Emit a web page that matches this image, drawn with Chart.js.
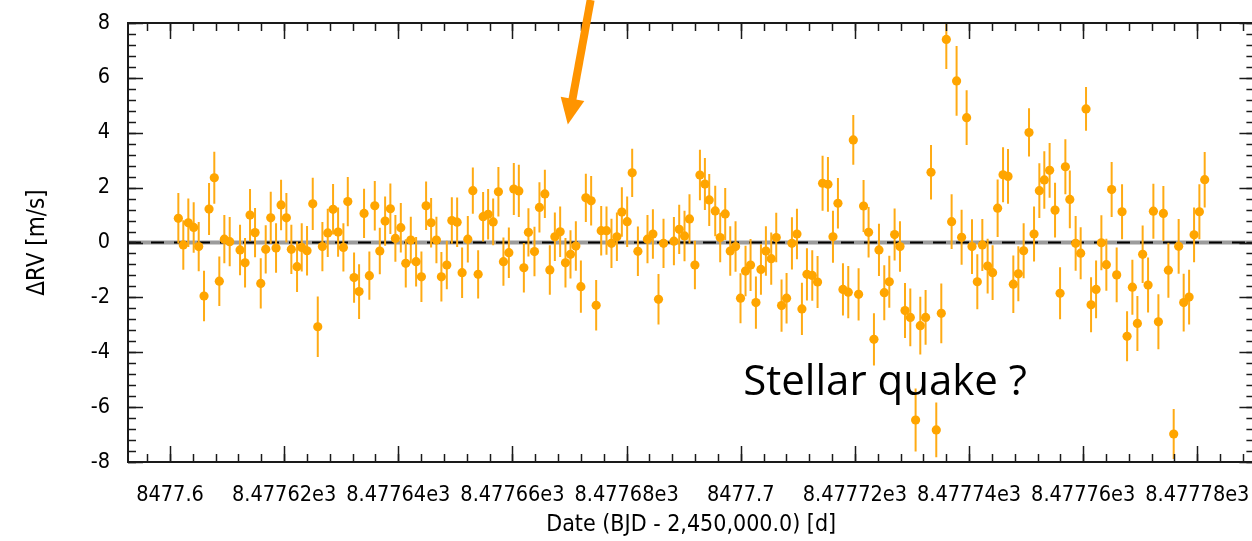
<!DOCTYPE html>
<html>
<head>
<meta charset="utf-8">
<script src="https://cdn.jsdelivr.net/npm/chart.js@4.4.1/dist/chart.umd.min.js"></script>
<style>
  html, body { margin: 0; padding: 0; background: #fff; overflow: hidden; }
  #wrap { width: 1259px; height: 541px; }
</style>
</head>
<body>
<div id="wrap"><canvas id="rvChart" width="1259" height="541"></canvas></div>
<script>
// Observation times (BJD - 2,450,000) and RV residuals in m/s
const bjd = [
  8477.60146, 8477.60233, 8477.60321, 8477.60415, 8477.60503, 8477.60596, 8477.60684, 8477.60776, 8477.60864, 8477.60952,
  8477.61046, 8477.61227, 8477.61315, 8477.61402, 8477.61490, 8477.61590, 8477.61677, 8477.61765, 8477.61858, 8477.61946,
  8477.62039, 8477.62126, 8477.62226, 8477.62308, 8477.62401, 8477.62501, 8477.62589, 8477.62670, 8477.62764, 8477.62857,
  8477.62945, 8477.63038, 8477.63115, 8477.63225, 8477.63313, 8477.63400, 8477.63493, 8477.63588, 8477.63676, 8477.63769,
  8477.63861, 8477.63949, 8477.64044, 8477.64131, 8477.64219, 8477.64312, 8477.64405, 8477.64487, 8477.64575, 8477.64668,
  8477.64755, 8477.64850, 8477.64938, 8477.65031, 8477.65118, 8477.65218, 8477.65306, 8477.65399, 8477.65486, 8477.65574,
  8477.65662, 8477.65754, 8477.65842, 8477.65937, 8477.66024, 8477.66112, 8477.66200, 8477.66280, 8477.66386, 8477.66473,
  8477.66568, 8477.66655, 8477.66743, 8477.66836, 8477.66929, 8477.67017, 8477.67111, 8477.67199, 8477.67286, 8477.67379,
  8477.67467, 8477.67555, 8477.67648, 8477.67735, 8477.67830, 8477.67917, 8477.68010, 8477.68098, 8477.68198, 8477.68366,
  8477.68461, 8477.68559, 8477.68647, 8477.68829, 8477.68922, 8477.69015, 8477.69102, 8477.69197, 8477.69285, 8477.69372,
  8477.69448, 8477.69553, 8477.69640, 8477.69728, 8477.69816, 8477.69909, 8477.69996, 8477.70084, 8477.70172, 8477.70266,
  8477.70354, 8477.70441, 8477.70534, 8477.70622, 8477.70715, 8477.70803, 8477.70897, 8477.70985, 8477.71072, 8477.71160,
  8477.71253, 8477.71346, 8477.71434, 8477.71528, 8477.71616, 8477.71703, 8477.71791, 8477.71884, 8477.71972, 8477.72065,
  8477.72152, 8477.72240, 8477.72334, 8477.72422, 8477.72515, 8477.72603, 8477.72696, 8477.72790, 8477.72878, 8477.72971,
  8477.73064, 8477.73146, 8477.73239, 8477.73334, 8477.73426, 8477.73514, 8477.73602, 8477.73695, 8477.73782, 8477.73870,
  8477.73958, 8477.74052, 8477.74145, 8477.74233, 8477.74326, 8477.74413, 8477.74501, 8477.74596, 8477.74683, 8477.74776,
  8477.74864, 8477.74957, 8477.75051, 8477.75139, 8477.75232, 8477.75319, 8477.75412, 8477.75507, 8477.75595, 8477.75688,
  8477.75766, 8477.75868, 8477.75956, 8477.76050, 8477.76138, 8477.76226, 8477.76319, 8477.76406, 8477.76499, 8477.76587,
  8477.76681, 8477.76769, 8477.76862, 8477.76950, 8477.77042, 8477.77137, 8477.77230, 8477.77318, 8477.77405, 8477.77493,
  8477.77586, 8477.77673, 8477.77761, 8477.77856, 8477.77943, 8477.78036, 8477.78129
];
const rv = [
  0.88, -0.09, 0.72, 0.55, -0.15, -1.95, 1.22, 2.36, -1.41, 0.12,
  0.03, -0.27, -0.74, 1.00, 0.36, -1.49, -0.25, 0.90, -0.20, 1.37,
  0.90, -0.25, -0.88, -0.18, -0.30, 1.41, -3.07, -0.15, 0.35, 1.21,
  0.38, -0.18, 1.49, -1.28, -1.79, 1.06, -1.21, 1.34, -0.31, 0.78,
  1.23, 0.15, 0.54, -0.76, 0.09, -0.70, -1.25, 1.34, 0.72, 0.09,
  -1.25, -0.82, 0.80, 0.74, -1.10, 0.12, 1.89, -1.16, 0.94, 1.03,
  0.75, 1.85, -0.70, -0.37, 1.95, 1.88, -0.92, 0.37, -0.33, 1.28,
  1.77, -1.00, 0.21, 0.39, -0.74, -0.43, -0.13, -1.61, 1.63, 1.52,
  -2.29, 0.43, 0.43, -0.03, 0.21, 1.11, 0.76, 2.54, -0.32, 0.12,
  0.31, -2.07, -0.03, 0.05, 0.48, 0.24, 0.86, -0.82, 2.46, 2.13,
  1.55, 1.15, 0.18, 1.04, -0.31, -0.15, -2.03, -1.04, -0.82, -2.19,
  -0.98, -0.31, -0.59, 0.18, -2.30, -2.03, -0.03, 0.31, -2.42, -1.16,
  -1.20, -1.44, 2.16, 2.12, 0.21, 1.43, -1.71, -1.81, 3.74, -1.89,
  1.33, 0.37, -3.53, -0.27, -1.83, -1.43, 0.29, -0.15, -2.48, -2.73,
  -6.47, -3.03, -2.73, 2.56, -6.83, -2.58, 7.40, 0.76, 5.89, 0.19,
  4.55, -0.15, -1.43, -0.09, -0.86, -1.10, 1.25, 2.47, 2.41, -1.52,
  -1.14, -0.30, 4.01, 0.31, 1.89, 2.28, 2.63, 1.18, -1.85, 2.76,
  1.57, -0.03, -0.39, 4.87, -2.27, -1.71, -0.01, -0.81, 1.93, -1.18,
  1.12, -3.42, -1.63, -2.95, -0.43, -1.55, 1.14, -2.89, 1.06, -1.01,
  -6.98, -0.14, -2.19, -1.99, 0.28, 1.12, 2.29
];
const rvErr = [
  0.92, 0.90, 0.88, 0.92, 0.90, 0.92, 0.95, 0.95, 0.90, 0.88,
  0.90, 0.92, 0.90, 0.95, 0.90, 0.92, 0.88, 0.95, 0.90, 0.92,
  0.90, 0.90, 0.92, 0.88, 0.90, 0.95, 1.10, 0.90, 0.88, 0.92,
  0.90, 0.88, 0.90, 0.92, 1.00, 0.90, 0.88, 0.90, 0.85, 0.90,
  0.92, 0.85, 0.90, 0.88, 0.85, 0.90, 0.92, 0.88, 0.90, 0.85,
  0.90, 0.88, 0.85, 0.90, 0.92, 0.85, 0.84, 0.88, 0.90, 0.92,
  0.85, 0.90, 0.88, 0.92, 0.95, 0.95, 0.90, 0.88, 0.90, 0.92,
  0.88, 0.90, 0.88, 0.92, 0.90, 0.88, 0.90, 0.95, 0.88, 0.90,
  0.92, 0.90, 0.88, 0.90, 0.88, 0.90, 0.92, 0.88, 0.90, 0.88,
  0.90, 0.92, 0.90, 0.88, 0.90, 0.92, 0.90, 0.88, 0.92, 0.95,
  0.95, 0.92, 0.90, 0.95, 0.90, 0.92, 0.91, 0.92, 0.95, 0.95,
  0.92, 0.90, 0.95, 0.90, 0.95, 0.92, 0.95, 0.92, 0.95, 0.95,
  0.92, 0.95, 1.00, 1.00, 0.95, 0.92, 0.95, 0.95, 0.91, 0.95,
  0.95, 0.92, 0.95, 0.95, 1.00, 0.95, 0.95, 0.92, 1.00, 1.05,
  1.15, 1.05, 1.00, 0.99, 1.00, 1.09, 1.08, 1.00, 1.27, 1.00,
  1.00, 1.00, 1.00, 0.95, 1.00, 1.00, 1.05, 1.00, 1.00, 1.05,
  1.00, 1.00, 0.88, 1.00, 1.00, 1.05, 1.00, 1.00, 0.95, 1.00,
  1.05, 1.00, 0.95, 0.80, 1.00, 1.05, 1.00, 0.95, 1.00, 1.00,
  1.00, 0.91, 1.00, 1.00, 1.05, 1.00, 1.00, 1.00, 1.00, 1.00,
  0.91, 1.00, 1.05, 1.00, 1.00, 1.00, 1.01
];

// Axis ranges and tick labels (gnuplot style mixed formatting)
const xRange = [8477.59264, 8477.79000];
const yRange = [-8, 8];
const xTickValues = [8477.60, 8477.62, 8477.64, 8477.66, 8477.68, 8477.70, 8477.72, 8477.74, 8477.76, 8477.78];
const xTickLabels = ["8477.6", "8.47762e3", "8.47764e3", "8.47766e3", "8.47768e3",
                     "8477.7", "8.47772e3", "8.47774e3", "8.47776e3", "8.47778e3"];
const yTickValues = [-8, -6, -4, -2, 0, 2, 4, 6, 8];
const yTickLabels = ["-8", "-6", "-4", "-2", "0", "2", "4", "6", "8"];
const xMinorStep = 0.004;
const yMinorStep = 0.4;

// Annotation: arrow and caption, placed in data coordinates
const arrowTail = { x: 8477.6737, y: 8.84 };
const arrowTip = { x: 8477.6697, y: 4.30 };
const captionText = "Stellar quake ?";
const captionPos = { x: 8477.70044, y: -5.56 };

const POINT_COLOR = "#ffa500";
const BAR_COLOR = "#ffab14";
const ARROW_COLOR = "#ff9400";
const TICK_FONT = '"DejaVu Sans Condensed", "DejaVu Sans", sans-serif';

const points = bjd.map((t, i) => ({ x: t, y: rv[i] }));
const zeroLine = [{ x: xRange[0], y: 0 }, { x: xRange[1], y: 0 }];

// vertical error bars, drawn right before the points dataset
const errorBars = {
  id: "errorBars",
  beforeDatasetDraw(chart, args) {
    if (args.index !== 2) return;
    const { ctx, chartArea: a, scales: { x, y } } = chart;
    ctx.save();
    ctx.beginPath();
    ctx.rect(a.left, a.top, a.right - a.left, a.bottom - a.top);
    ctx.clip();
    ctx.strokeStyle = BAR_COLOR;
    ctx.lineWidth = 2;
    bjd.forEach((t, i) => {
      const px = x.getPixelForValue(t);
      ctx.beginPath();
      ctx.moveTo(px, y.getPixelForValue(rv[i] - rvErr[i]));
      ctx.lineTo(px, y.getPixelForValue(rv[i] + rvErr[i]));
      ctx.stroke();
    });
    ctx.restore();
  }
};

// box frame with inward ticks on all four sides
const frameTicks = {
  id: "frameTicks",
  afterDatasetsDraw(chart) {
    const { ctx, chartArea: a, scales: { x, y } } = chart;
    ctx.save();
    ctx.strokeStyle = "#1a1a1a";
    ctx.lineWidth = 1.5;
    const tick = (x1, y1, x2, y2) => {
      ctx.beginPath();
      ctx.moveTo(x1, y1);
      ctx.lineTo(x2, y2);
      ctx.stroke();
    };
    for (let v = 8477.596; v < xRange[1]; v += xMinorStep) {
      const px = Math.round(x.getPixelForValue(v)) + 0.5;
      tick(px, a.top, px, a.top + 8);
      tick(px, a.bottom, px, a.bottom - 8);
    }
    xTickValues.forEach(v => {
      const px = Math.round(x.getPixelForValue(v)) + 0.5;
      tick(px, a.top, px, a.top + 16);
      tick(px, a.bottom, px, a.bottom - 16);
    });
    for (let v = yRange[0]; v <= yRange[1] + 1e-9; v += yMinorStep) {
      const py = Math.round(y.getPixelForValue(v)) + 0.5;
      tick(a.left, py, a.left + 8, py);
      tick(a.right, py, a.right - 8, py);
    }
    yTickValues.forEach(v => {
      const py = Math.round(y.getPixelForValue(v)) + 0.5;
      tick(a.left, py, a.left + 15, py);
      tick(a.right, py, a.right - 15, py);
    });
    ctx.lineWidth = 2;
    ctx.strokeRect(a.left, a.top, a.right - a.left, a.bottom - a.top);
    ctx.restore();
  }
};

// orange arrow coming in from the top and the caption text
const annotations = {
  id: "annotations",
  afterDraw(chart) {
    const { ctx, scales: { x, y } } = chart;
    const x0 = x.getPixelForValue(arrowTail.x), y0 = y.getPixelForValue(arrowTail.y);
    const x1 = x.getPixelForValue(arrowTip.x), y1 = y.getPixelForValue(arrowTip.y);
    const len = Math.hypot(x1 - x0, y1 - y0);
    const ux = (x1 - x0) / len, uy = (y1 - y0) / len;
    const headLen = 26, headHalf = 12;
    const bx = x1 - ux * headLen, by = y1 - uy * headLen;
    ctx.save();
    ctx.strokeStyle = ARROW_COLOR;
    ctx.fillStyle = ARROW_COLOR;
    ctx.lineWidth = 8;
    ctx.beginPath();
    ctx.moveTo(x0, y0);
    ctx.lineTo(bx + ux * 2, by + uy * 2);
    ctx.stroke();
    ctx.beginPath();
    ctx.moveTo(x1, y1);
    ctx.lineTo(bx - uy * headHalf, by + ux * headHalf);
    ctx.lineTo(bx + uy * headHalf, by - ux * headHalf);
    ctx.closePath();
    ctx.fill();

    ctx.fillStyle = "#000";
    ctx.font = '42px "Open Sans", sans-serif';
    ctx.textAlign = "left";
    ctx.textBaseline = "alphabetic";
    ctx.fillText(captionText, x.getPixelForValue(captionPos.x), y.getPixelForValue(captionPos.y));
    ctx.restore();
  }
};

new Chart(document.getElementById("rvChart"), {
  type: "scatter",
  data: {
    datasets: [
      {
        data: zeroLine,
        showLine: true,
        borderColor: "#9c9c9c",
        borderWidth: 4,
        pointRadius: 0,
        order: 3
      },
      {
        data: zeroLine,
        showLine: true,
        borderColor: "#000",
        borderWidth: 2,
        borderDash: [13, 10],
        pointRadius: 0,
        order: 2
      },
      {
        data: points,
        backgroundColor: POINT_COLOR,
        borderWidth: 0,
        pointRadius: 4.6,
        order: 1
      }
    ]
  },
  options: {
    responsive: false,
    animation: false,
    layout: { padding: { top: 23, right: 0, bottom: 0, left: 0 } },
    plugins: {
      legend: { display: false },
      tooltip: { enabled: false }
    },
    scales: {
      x: {
        type: "linear",
        min: xRange[0],
        max: xRange[1],
        grid: { display: false, drawTicks: false },
        border: { display: false },
        afterFit: scale => {
          scale.height = 79;
          scale.paddingLeft = 0;
          scale.paddingRight = 0;
        },
        afterBuildTicks: scale => { scale.ticks = xTickValues.map(v => ({ value: v })); },
        ticks: {
          autoSkip: false,
          maxRotation: 0,
          padding: 21,
          color: "#000",
          font: { family: TICK_FONT, size: 21.5 },
          callback: (v, i) => xTickLabels[i]
        },
        title: {
          display: true,
          text: "Date (BJD - 2,450,000.0) [d]",
          color: "#000",
          font: { family: TICK_FONT, size: 23 },
          padding: { top: 0, bottom: 2 }
        }
      },
      y: {
        min: yRange[0],
        max: yRange[1],
        grid: { display: false, drawTicks: false },
        border: { display: false },
        afterFit: scale => {
          scale.width = 128;
          scale.paddingTop = 0;
          scale.paddingBottom = 0;
        },
        afterBuildTicks: scale => { scale.ticks = yTickValues.map(v => ({ value: v })); },
        ticks: {
          padding: 18,
          color: "#000",
          font: { family: TICK_FONT, size: 21.5 },
          callback: (v, i) => yTickLabels[i]
        },
        title: {
          display: true,
          text: "ΔRV [m/s]",
          color: "#000",
          font: { family: TICK_FONT, size: 24 },
          padding: { top: 23, bottom: 0 }
        }
      }
    }
  },
  plugins: [errorBars, frameTicks, annotations]
});
</script>
</body>
</html>
